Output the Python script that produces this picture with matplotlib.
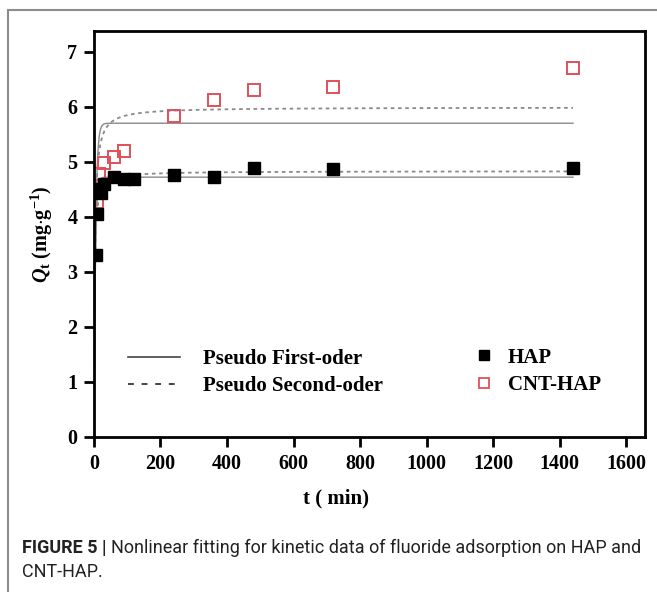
import numpy as np
import matplotlib
matplotlib.use("Agg")
import matplotlib.pyplot as plt
from matplotlib.lines import Line2D

# kinetic data: adsorbed fluoride Qt (mg/g) vs contact time t (min)
hap_t = [5, 10, 15, 20, 30, 60, 90, 120, 240, 360, 480, 720, 1440]
hap_q = [3.30, 4.05, 4.50, 4.44, 4.60, 4.73, 4.69, 4.69, 4.76, 4.73, 4.89, 4.86, 4.89]
cnt_t = [10, 15, 30, 60, 90, 240, 360, 480, 720, 1440]
cnt_q = [4.27, 4.78, 4.98, 5.09, 5.20, 5.84, 6.13, 6.30, 6.36, 6.70]

# fitted parameters (qe in mg/g, k1 in 1/min, k2 in g/(mg min))
pfo_hap = (4.72, 0.25)
pfo_cnt = (5.70, 0.20)
pso_hap = (4.83, 0.12)
pso_cnt = (5.99, 0.068)

xticks = [0, 200, 400, 600, 800, 1000, 1200, 1400, 1600]
yticks = [0, 1, 2, 3, 4, 5, 6, 7]


def pseudo_first(t, qe, k):
    return qe * (1 - np.exp(-k * t))


def pseudo_second(t, qe, k):
    return qe ** 2 * k * t / (1 + qe * k * t)


serif = "Liberation Serif"
cap_font = "Roboto"

plt.rcParams["font.family"] = serif
plt.rcParams["font.weight"] = "bold"
plt.rcParams["mathtext.fontset"] = "custom"
plt.rcParams["mathtext.rm"] = serif + ":bold"
plt.rcParams["mathtext.it"] = serif + ":italic:bold"
plt.rcParams["mathtext.bf"] = serif + ":bold"

fig = plt.figure(figsize=(6.57, 5.92), dpi=100)
ax = fig.add_axes([0.143, 0.262, 0.839, 0.686])

t = np.linspace(0, 1440, 3000)
fit_col = "#8a8a8a"
ax.plot(t, pseudo_first(t, *pfo_hap), color=fit_col, lw=1.0)
ax.plot(t, pseudo_first(t, *pfo_cnt), color=fit_col, lw=1.0)
ax.plot(t, pseudo_second(t, *pso_hap), color=fit_col, lw=1.3, ls=(0, (2, 2)))
ax.plot(t, pseudo_second(t, *pso_cnt), color=fit_col, lw=1.3, ls=(0, (2, 2)))

red = "#e0505a"
ax.plot(cnt_t, cnt_q, ls="none", marker="s", ms=8.5, mfc="none", mec=red, mew=1.4)
ax.plot(hap_t, hap_q, ls="none", marker="s", ms=8.5, color="black")

ax.set_xlim(0, 1657)
ax.set_ylim(0, 7.38)
ax.set_xticks(xticks)
ax.set_yticks(yticks)
ax.tick_params(direction="out", length=7, width=2, labelsize=14.5, pad=5)
for s in ax.spines.values():
    s.set_linewidth(2)

ax.set_xlabel("t ( min)", fontsize=15, fontweight="bold", labelpad=10)
ax.xaxis.set_label_coords(0.44, -0.128)
ax.set_ylabel(r"$Q_{\rm t}$ (mg$\cdot$g$^{-1}$)", fontsize=14.5, fontweight="bold", labelpad=9)

line_handles = [Line2D([], [], color="#444", lw=1.2),
                Line2D([], [], color="#444", lw=1.4, ls=(0, (3, 4)))]
leg1 = ax.legend(line_handles, ["Pseudo First-oder", "Pseudo Second-oder"],
                 loc="upper left", bbox_to_anchor=(0.062, 0.216), frameon=False,
                 borderpad=0, borderaxespad=0, fontsize=15,
                 handlelength=2.5, handletextpad=1.1, labelspacing=0.35)
ax.add_artist(leg1)

mark_handles = [Line2D([], [], ls="none", marker="s", ms=7, color="black"),
                Line2D([], [], ls="none", marker="s", ms=7, mfc="none", mec=red, mew=1.3)]
ax.legend(mark_handles, ["HAP", "CNT-HAP"],
          loc="upper left", bbox_to_anchor=(0.688, 0.22), frameon=False,
          borderpad=0, borderaxespad=0, fontsize=15,
          handlelength=1.0, handletextpad=0.65, labelspacing=0.35)

# panel frame
fig.add_artist(Line2D([0.012, 1.0], [0.983, 0.983], color="#8c8c8c", lw=1.5))
fig.add_artist(Line2D([0.012, 0.012], [0.0, 0.983], color="#8c8c8c", lw=1.5))

# caption
cap1 = fig.text(0.034, 1 - 548 / 592, "FIGURE 5 |", fontsize=13, fontweight="bold",
                family=cap_font, va="center", color="#222")
fig.canvas.draw()
bb = cap1.get_window_extent(fig.canvas.get_renderer())
fig.text(bb.x1 / fig.bbox.width + 0.006, 1 - 548 / 592,
         "Nonlinear fitting for kinetic data of fluoride adsorption on HAP and",
         fontsize=13, fontweight="normal", family=cap_font, va="center", color="#222")
fig.text(0.034, 1 - 572 / 592, "CNT-HAP.", fontsize=13, fontweight="normal",
         family=cap_font, va="center", color="#222")

fig.savefig("out.png", dpi=100)
